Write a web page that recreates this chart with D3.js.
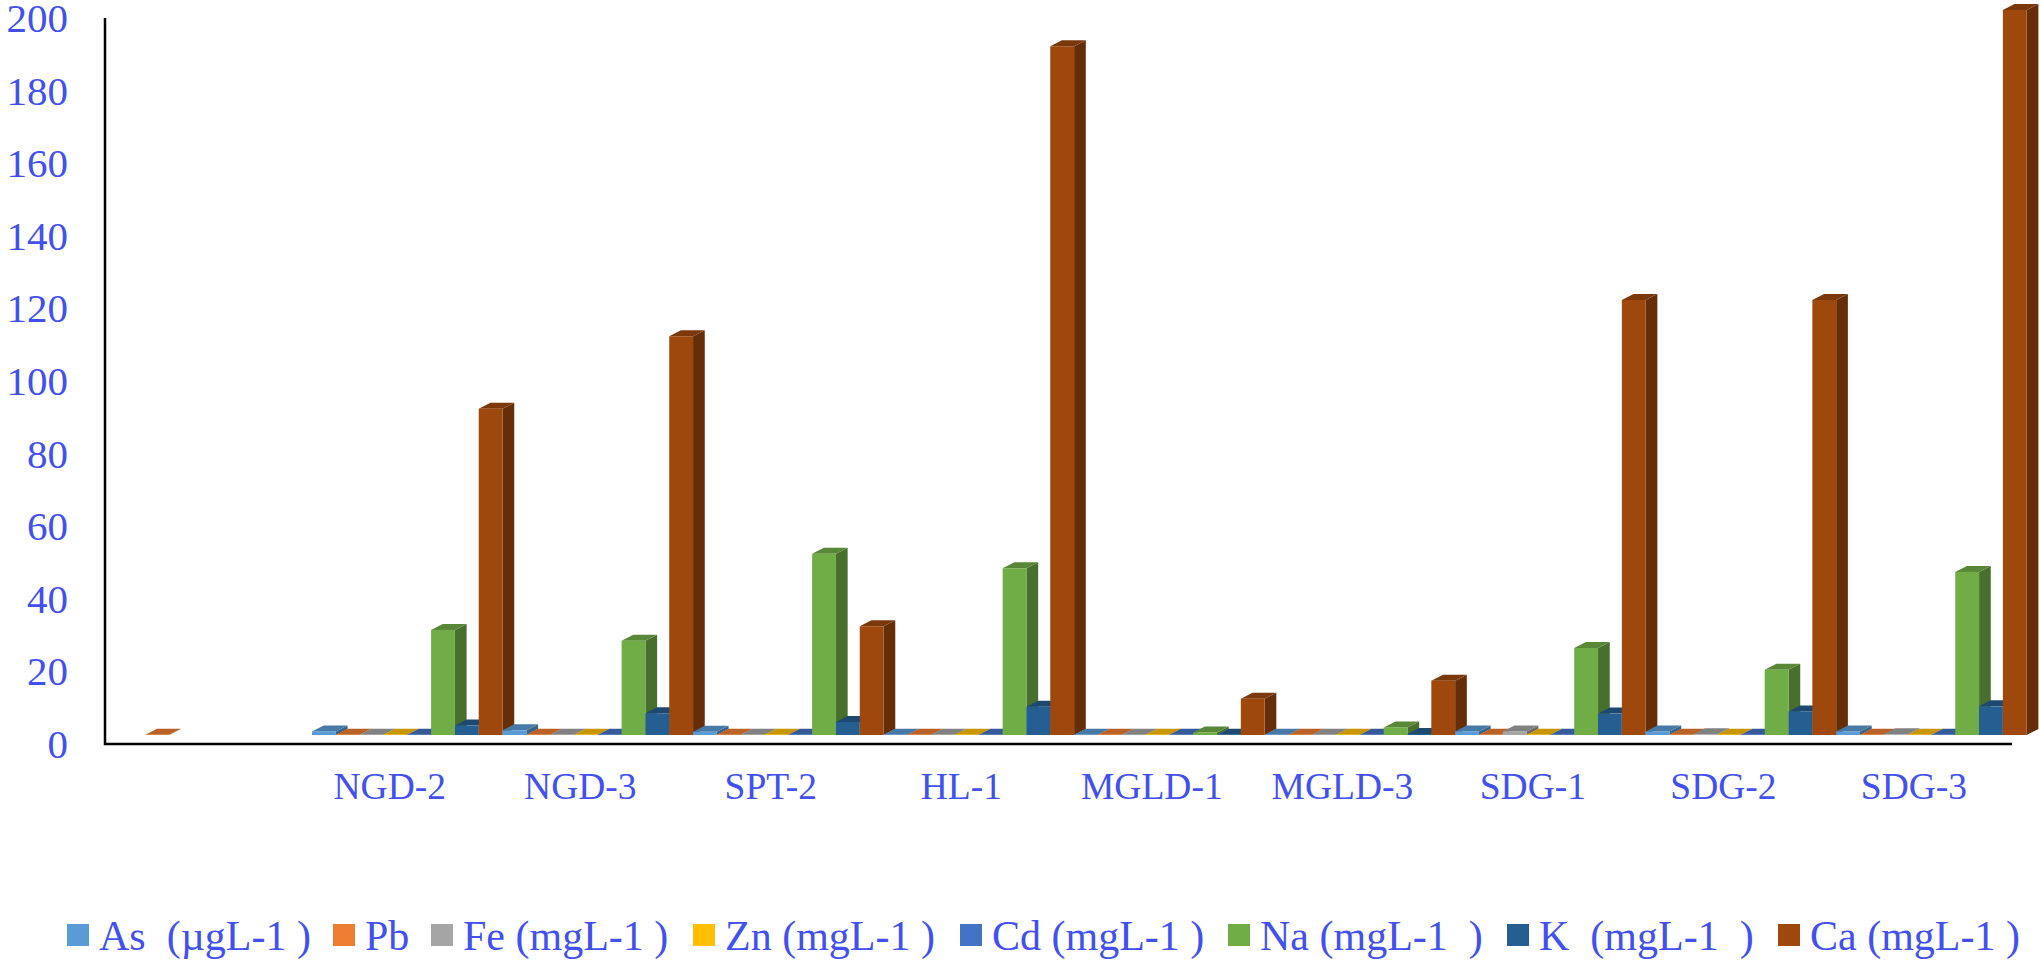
<!DOCTYPE html>
<html><head><meta charset="utf-8">
<script src="https://cdn.jsdelivr.net/npm/d3@7/dist/d3.min.js"></script>
<style>html,body{margin:0;padding:0;background:#fff}svg{display:block}text{font-family:"Liberation Serif",serif;fill:#4150ee}</style>
</head><body><svg id="c" width="2041" height="961"></svg>
<script>
const categories = ["", "NGD-2", "NGD-3", "SPT-2", "HL-1", "MGLD-1", "MGLD-3", "SDG-1", "SDG-2", "SDG-3"];
const seriesNames = ["As  (µgL-1 )", "Pb", "Fe (mgL-1 )", "Zn (mgL-1 )", "Cd (mgL-1 )", "Na (mgL-1  )", "K  (mgL-1  )", "Ca (mgL-1 )"];
const seriesColors = ["#5b9bd5", "#ed7d31", "#a5a5a5", "#ffc000", "#4472c4", "#70ad47", "#255e91", "#9e480e"];
const As = [0, 1, 1.3, 0.9, 0.1, 0.1, 0.1, 1, 1, 1];
const Pb = [0.1, 0.1, 0.1, 0.1, 0.1, 0.1, 0.1, 0.1, 0.1, 0.1];
const Fe = [0, 0.1, 0.1, 0.1, 0.1, 0.1, 0.1, 1, 0.2, 0.2];
const Zn = [0, 0.1, 0.1, 0.1, 0.1, 0.1, 0.1, 0.1, 0.1, 0.1];
const Cd = [0, 0.1, 0.1, 0.1, 0.1, 0.1, 0.1, 0.1, 0.1, 0.1];
const Na = [0, 29, 26, 50, 46, 0.7, 2.1, 24, 18, 45];
const K = [0, 2.6, 6, 3.6, 7.8, 0.1, 0.3, 5.9, 6.5, 7.9];
const Ca = [0, 90, 110, 30, 190, 10, 15, 120, 120, 200];
const seriesValues = [As, Pb, Fe, Zn, Cd, Na, K, Ca];
const yTicks = d3.range(0, 201, 20);

const svg = d3.select("#c");
const x0 = d3.scaleBand().domain(d3.range(categories.length)).range([121.5, 2026.7]);
const x1 = d3.scaleBand().domain(d3.range(8)).range([0, x0.bandwidth()]);
const y = d3.scaleLinear().domain([0, 200]).range([735, 10]);
const yAxisPos = d3.scaleLinear().domain([0, 200]).range([744, 18]);
const dx = 11.7, dy = 6;

const shade = (c, k) => d3.rgb(c).darker(k).formatHex();
const order = [];
categories.forEach((_, c) => seriesValues.forEach((s, i) => { if (s[c] > 0) order.push({c, i, v: s[c]}); }));
const g = svg.append("g");
order.forEach(d => {
  const col = seriesColors[d.i], xl = x0(d.c) + x1(d.i), w = x1.bandwidth(), yt = y(d.v), yb = y(0);
  g.append("path").attr("d", `M${xl+w},${yb}L${xl+w+dx},${yb-dy}L${xl+w+dx},${yt-dy}L${xl+w},${yt}Z`).attr("fill", shade(col, 1.25));
  g.append("path").attr("d", `M${xl},${yt}L${xl+dx},${yt-dy}L${xl+w+dx},${yt-dy}L${xl+w},${yt}Z`).attr("fill", shade(col, 0.7));
  g.append("rect").attr("x", xl).attr("y", yt).attr("width", w).attr("height", yb - yt).attr("fill", col);
});

// Axes
svg.append("path").attr("d", "M105,18V744H2012").attr("fill", "none").attr("stroke", "#000").attr("stroke-width", 2.5);
svg.append("g").selectAll("text").data(yTicks).join("text")
  .attr("x", 68).attr("y", d => yAxisPos(d)).attr("dy", "0.34em").attr("text-anchor", "end")
  .attr("font-size", 41).text(d => d);
svg.append("g").selectAll("text").data(categories).join("text")
  .attr("x", (d, i) => x0(i) + x0.bandwidth()/2 - 17.5).attr("y", 786).attr("dy", "0.34em").attr("text-anchor", "middle")
  .attr("font-size", 37.5).text(d => d);

// Legend
const legendX = [67, 333, 431, 693, 960, 1228, 1507, 1778];
const lg = svg.append("g").selectAll("g").data(seriesNames).join("g").attr("transform", (d, i) => `translate(${legendX[i]},0)`);
lg.append("rect").attr("y", 924).attr("width", 22).attr("height", 22).attr("fill", (d, i) => seriesColors[i]);
lg.append("text").attr("x", 32).attr("y", 950).attr("font-size", 42).style("white-space", "pre").text(d => d);
</script></body></html>
